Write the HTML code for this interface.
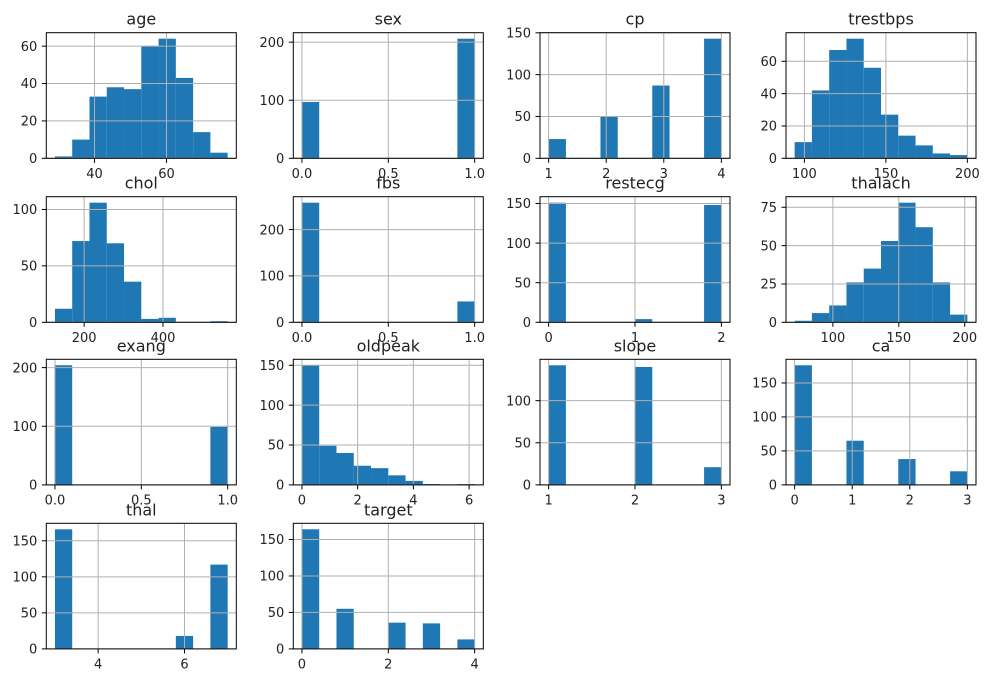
<!DOCTYPE html>
<html><head><meta charset="utf-8"><style>
body{margin:0;background:#fff}
svg{display:block;font-family:"DejaVu Sans","Liberation Sans",sans-serif}
</style></head><body>
<svg id="fig" width="990" height="682" xmlns="http://www.w3.org/2000/svg"></svg>
<script>
const titles=["age","sex","cp","trestbps","chol","fbs","restecg","thalach","exang","oldpeak","slope","ca","thal","target"];
const mins=[29,0,1,94,126,0,0,71,0,0,1,0,3,0];
const maxs=[77,1,4,200,564,1,2,202,1,6.2,3,3,7,4];
const counts=[
[1,10,33,38,37,60,64,43,14,3],
[97,0,0,0,0,0,0,0,0,206],
[23,0,0,50,0,0,87,0,0,143],
[10,42,67,74,56,27,14,8,3,2],
[12,72,106,70,36,3,4,0,0,1],
[258,0,0,0,0,0,0,0,0,45],
[151,0,0,0,0,4,0,0,0,148],
[1,6,11,26,35,53,78,62,26,5],
[204,0,0,0,0,0,0,0,0,99],
[150,49,40,24,21,12,5,1,0,1],
[142,0,0,0,0,140,0,0,0,21],
[176,0,0,65,0,0,38,0,0,20],
[166,0,0,0,0,0,0,18,0,117],
[164,0,55,0,0,36,0,35,0,13]];
const xTicks=[[40,60],[0,0.5,1],[1,2,3,4],[100,150,200],[200,400],[0,0.5,1],[0,1,2],[100,150,200],[0,0.5,1],[0,2,4,6],[1,2,3],[0,1,2,3],[4,6],[0,2,4]];
const xLabels=[["40","60"],["0.0","0.5","1.0"],["1","2","3","4"],["100","150","200"],["200","400"],["0.0","0.5","1.0"],["0","1","2"],["100","150","200"],["0.0","0.5","1.0"],["0","2","4","6"],["1","2","3"],["0","1","2","3"],["4","6"],["0","2","4"]];
const yTicks=[[0,20,40,60],[0,100,200],[0,50,100,150],[0,20,40,60],[0,50,100],[0,100,200],[0,50,100,150],[0,25,50,75],[0,100,200],[0,50,100,150],[0,50,100],[0,50,100,150],[0,50,100,150],[0,50,100,150]];

const NS="http://www.w3.org/2000/svg";
const fig=document.getElementById('fig');
function mk(tag,attrs,parent){const e=document.createElementNS(NS,tag);for(const k in attrs)e.setAttribute(k,attrs[k]);parent.appendChild(e);return e;}
const colX=[46.3,293.3,540,786], colW=190;
const rowY=[32.7,196.7,359.3,523.3], rowH=125.6;
titles.forEach((t,i)=>{
  const L=colX[i%4], T=rowY[Math.floor(i/4)], W=colW, H=rowH;
  const g=mk('g',{},fig);
  
  
  const lo=mins[i], hi=maxs[i], span=hi-lo;
  const x0=lo-0.05*span, x1=hi+0.05*span;
  const ymax=Math.max(...counts[i])*1.05;
  const sx=v=>L+(v-x0)/(x1-x0)*W;
  const sy=v=>T+H-v/ymax*H;
  const bw=span/10;
  counts[i].forEach((c,j)=>{ if(c<=0)return;
    const r=mk('rect',{x:sx(lo+j*bw),y:sy(c),width:sx(lo+(j+1)*bw)-sx(lo+j*bw),height:sy(0)-sy(c),fill:'#1f77b4'},g);
    
    
  });
  xTicks[i].forEach(v=>{const l=mk('line',{x1:sx(v),x2:sx(v),y1:T,y2:T+H,stroke:'#b0b0b0','stroke-width':1},g);});
  yTicks[i].forEach(v=>{const l=mk('line',{x1:L,x2:L+W,y1:sy(v),y2:sy(v),stroke:'#b0b0b0','stroke-width':1},g);});
  const f=mk('rect',{x:L,y:T,width:W,height:H,fill:'none',stroke:'#000','stroke-width':1},g);
  
  
  xTicks[i].forEach((v,k)=>{
    mk('line',{x1:sx(v),x2:sx(v),y1:T+H,y2:T+H+4.5,stroke:'#000','stroke-width':1},g);
    const tx=mk('text',{x:sx(v),y:T+H+19.5,'text-anchor':'middle','font-size':13,fill:'#222'},g);
    tx.textContent=xLabels[i][k];
    
    
  });
  yTicks[i].forEach(v=>{
    mk('line',{x1:L-4.5,x2:L,y1:sy(v),y2:sy(v),stroke:'#000','stroke-width':1},g);
    const tx=mk('text',{x:L-9,y:sy(v)+4.7,'text-anchor':'end','font-size':13,fill:'#222'},g);
    tx.textContent=String(v);
    
    
  });
  const tt=mk('text',{x:L+W/2,y:T-8,'text-anchor':'middle','font-size':16,fill:'#222'},g);
  tt.textContent=t;
  
  
});
</script>
</body></html>
